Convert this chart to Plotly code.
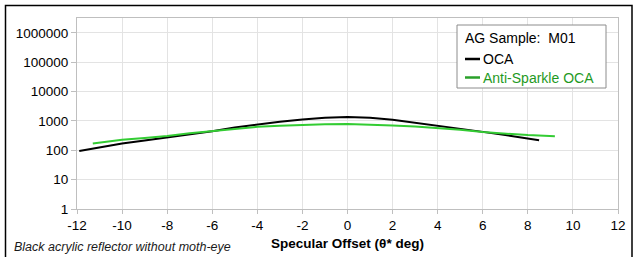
import plotly.graph_objects as go

# OCA (black)
oca_x = [-11.9, -11, -10, -9, -8, -7, -6, -5, -4, -3, -2, -1, 0, 1, 2, 3, 4, 5, 6, 7, 8, 8.5]
oca_y = [95, 125, 170, 215, 270, 355, 450, 600, 770, 950, 1120, 1300, 1380, 1300, 1100, 880, 690, 540, 425, 330, 255, 222]

# Anti-Sparkle OCA (green)
as_x = [-11.3, -10, -9, -8, -7, -6, -5, -4, -3, -2, -1, 0, 1, 2, 3, 4, 5, 6, 7, 8, 9.2]
as_y = [172, 230, 265, 305, 380, 450, 540, 630, 690, 740, 780, 790, 760, 705, 650, 585, 500, 420, 370, 330, 300]

series_names = ["OCA", "Anti-Sparkle OCA"]
legend_title = "AG Sample:  M01"

x_ticks = [-12, -10, -8, -6, -4, -2, 0, 2, 4, 6, 8, 10, 12]
y_ticks = [1, 10, 100, 1000, 10000, 100000, 1000000]
y_tick_labels = ["1", "10", "100", "1000", "10000", "100000", "1000000"]

FONT = "Liberation Sans, Arial, sans-serif"
GRID = "#e3e3e3"
AXIS = "#bfbfbf"
BLACK = "#000000"
GREEN_LINE = "#33cc33"
GREEN_TEXT = "#1f9a1f"

fig = go.Figure()
fig.add_trace(go.Scatter(x=oca_x, y=oca_y, mode="lines", name=series_names[0],
                         line=dict(color=BLACK, width=2), showlegend=False))
fig.add_trace(go.Scatter(x=as_x, y=as_y, mode="lines", name=series_names[1],
                         line=dict(color=GREEN_LINE, width=2), showlegend=False))

L, R, T, B = 77, 15, 18, 48
W, H = 633, 257
pw, ph = W - L - R, H - T - B

def px(xp):
    return (xp - L) / pw

def py(yp):
    return (H - B - yp) / ph

shapes = [
    # outer chart border
    dict(type="rect", xref="paper", yref="paper",
         x0=px(5.5), x1=px(632), y0=py(259), y1=py(5.5),
         line=dict(color=BLACK, width=1.5), fillcolor="rgba(0,0,0,0)", layer="above"),
    # legend box
    dict(type="rect", xref="paper", yref="paper",
         x0=px(457), x1=px(606), y0=py(88), y1=py(25),
         line=dict(color="#8c8c8c", width=1), fillcolor="white", layer="above"),
    # legend line samples
    dict(type="line", xref="paper", yref="paper",
         x0=px(465), x1=px(480), y0=py(59), y1=py(59),
         line=dict(color=BLACK, width=2.5), layer="above"),
    dict(type="line", xref="paper", yref="paper",
         x0=px(465), x1=px(480), y0=py(77.5), y1=py(77.5),
         line=dict(color="#2aa02a", width=2.5), layer="above"),
]

annotations = [
    dict(text="<i>Black acrylic reflector without moth-eye</i>",
         xref="paper", yref="paper", x=px(12), y=py(247),
         xanchor="left", yanchor="middle", showarrow=False,
         font=dict(size=12.5, color="#1a1a1a")),
    dict(text=legend_title, xref="paper", yref="paper", x=px(463), y=py(37.5),
         xanchor="left", yanchor="middle", showarrow=False,
         font=dict(size=14, color=BLACK)),
    dict(text=series_names[0], xref="paper", yref="paper", x=px(481), y=py(59),
         xanchor="left", yanchor="middle", showarrow=False,
         font=dict(size=14, color=BLACK)),
    dict(text=series_names[1], xref="paper", yref="paper", x=px(481), y=py(77.5),
         xanchor="left", yanchor="middle", showarrow=False,
         font=dict(size=14, color=GREEN_TEXT)),
]

fig.update_layout(
    width=W, height=H,
    margin=dict(l=L, r=R, t=T, b=B, autoexpand=False),
    paper_bgcolor="white", plot_bgcolor="white",
    font=dict(family=FONT, size=13.5, color=BLACK),
    showlegend=False,
    xaxis=dict(
        range=[-12, 12], tickvals=x_ticks, ticktext=[str(v) for v in x_ticks],
        showgrid=True, gridcolor=GRID, gridwidth=1,
        showline=True, linecolor=AXIS, linewidth=1, mirror=True,
        ticks="outside", ticklen=4, tickcolor=AXIS,
        zeroline=False, automargin=False,
        tickfont=dict(size=13.5, color=BLACK),
        title=dict(text="<b>Specular Offset (θ* deg)</b>", font=dict(size=13.5), standoff=6),
    ),
    yaxis=dict(
        type="log", range=[0, 6.51], tickvals=y_ticks, ticktext=y_tick_labels,
        showgrid=True, gridcolor=GRID, gridwidth=1,
        showline=True, linecolor=AXIS, linewidth=1, mirror=True,
        ticks="outside", ticklen=5, tickcolor=AXIS,
        zeroline=False, automargin=False,
        tickfont=dict(size=13.5, color=BLACK),
    ),
    shapes=shapes,
    annotations=annotations,
)

fig.write_html("out.html",
               config={"displayModeBar": False},
               post_script="document.body.style.margin='0';document.body.style.overflow='hidden';")
